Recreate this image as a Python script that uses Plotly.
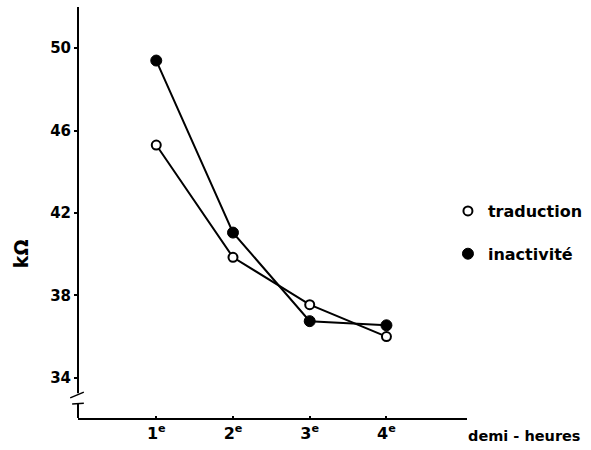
import plotly.graph_objects as go

# half-hour periods
periods = [1, 2, 3, 4]
period_labels = ["1<sup>e</sup>", "2<sup>e</sup>", "3<sup>e</sup>", "4<sup>e</sup>"]

# skin resistance (kΩ) per condition
traduction = [45.3, 39.85, 37.55, 36.0]
inactivite = [49.4, 41.05, 36.75, 36.55]

y_ticks = [34, 38, 42, 46, 50]

FONT = "DejaVu Sans"
INK = "black"

fig = go.Figure()

# data lines
fig.add_trace(go.Scatter(
    x=periods, y=inactivite, mode="lines+markers", showlegend=False,
    line=dict(color=INK, width=2),
    marker=dict(symbol="circle", size=11, color=INK, line=dict(color=INK, width=1)),
    cliponaxis=False,
))
fig.add_trace(go.Scatter(
    x=periods, y=traduction, mode="lines+markers", showlegend=False,
    line=dict(color=INK, width=2),
    marker=dict(symbol="circle", size=9, color="white", line=dict(color=INK, width=2)),
    cliponaxis=False,
))

# legend keys (markers only)
fig.add_trace(go.Scatter(
    x=[None], y=[None], mode="markers", name="traduction", legendgroup="a",
    marker=dict(symbol="circle", size=9, color="white", line=dict(color=INK, width=2)),
))
fig.add_trace(go.Scatter(
    x=[None], y=[None], mode="markers", name="inactivité", legendgroup="b",
    marker=dict(symbol="circle", size=11, color=INK, line=dict(color=INK, width=1)),
))

# y axis line drawn with a break near the bottom
axis_shapes = [
    dict(type="line", xref="paper", yref="paper", x0=0, x1=0, y0=0.06, y1=1.0,
         line=dict(color=INK, width=2)),
    dict(type="line", xref="paper", yref="paper", x0=0, x1=0, y0=0.0, y1=0.034,
         line=dict(color=INK, width=2)),
    dict(type="line", xref="paper", yref="paper", x0=-0.02, x1=0.015, y0=0.049, y1=0.063,
         line=dict(color=INK, width=1.5)),
    dict(type="line", xref="paper", yref="paper", x0=-0.015, x1=0.015, y0=0.034, y1=0.036,
         line=dict(color=INK, width=1.5)),
]

fig.update_layout(
    width=591, height=450,
    margin=dict(l=78, r=124, t=7, b=32, autoexpand=False),
    paper_bgcolor="white", plot_bgcolor="white",
    font=dict(family=FONT, size=14, color=INK, weight="bold"),
    shapes=axis_shapes,
    xaxis=dict(
        range=[-0.02, 5.05], showgrid=False, zeroline=False, automargin=False,
        showline=True, linecolor=INK, linewidth=2,
        tickmode="array", tickvals=periods, ticktext=period_labels,
        ticks="inside", ticklen=2, tickwidth=1.5, tickcolor=INK,
        tickfont=dict(family=FONT, size=16, color=INK, weight="bold"),
    ),
    yaxis=dict(
        range=[32.05, 52.0], showgrid=False, zeroline=False, showline=False,
        automargin=False,
        tickmode="array", tickvals=y_ticks, ticktext=[str(v) for v in y_ticks],
        ticks="outside", ticklen=3, tickwidth=2, tickcolor=INK,
        tickfont=dict(family=FONT, size=15, color=INK, weight="bold"),
    ),
    legend=dict(
        x=0.951, y=0.545, xanchor="left", yanchor="top",
        bgcolor="rgba(0,0,0,0)", borderwidth=0,
        font=dict(family=FONT, size=16, color=INK, weight="bold"),
        traceorder="grouped", tracegroupgap=19, itemwidth=30,
    ),
    annotations=[
        dict(text="kΩ", xref="paper", yref="paper", x=-0.146, y=0.399,
             textangle=-90, showarrow=False,
             font=dict(family=FONT, size=19, color=INK, weight="bold"),
             xanchor="center", yanchor="middle"),
        dict(text="demi - heures", xref="paper", yref="paper", x=0.998, y=-0.043,
             showarrow=False,
             font=dict(family=FONT, size=14.5, color=INK, weight="bold"),
             xanchor="left", yanchor="middle"),
    ],
)

fig.write_html("out.html")
